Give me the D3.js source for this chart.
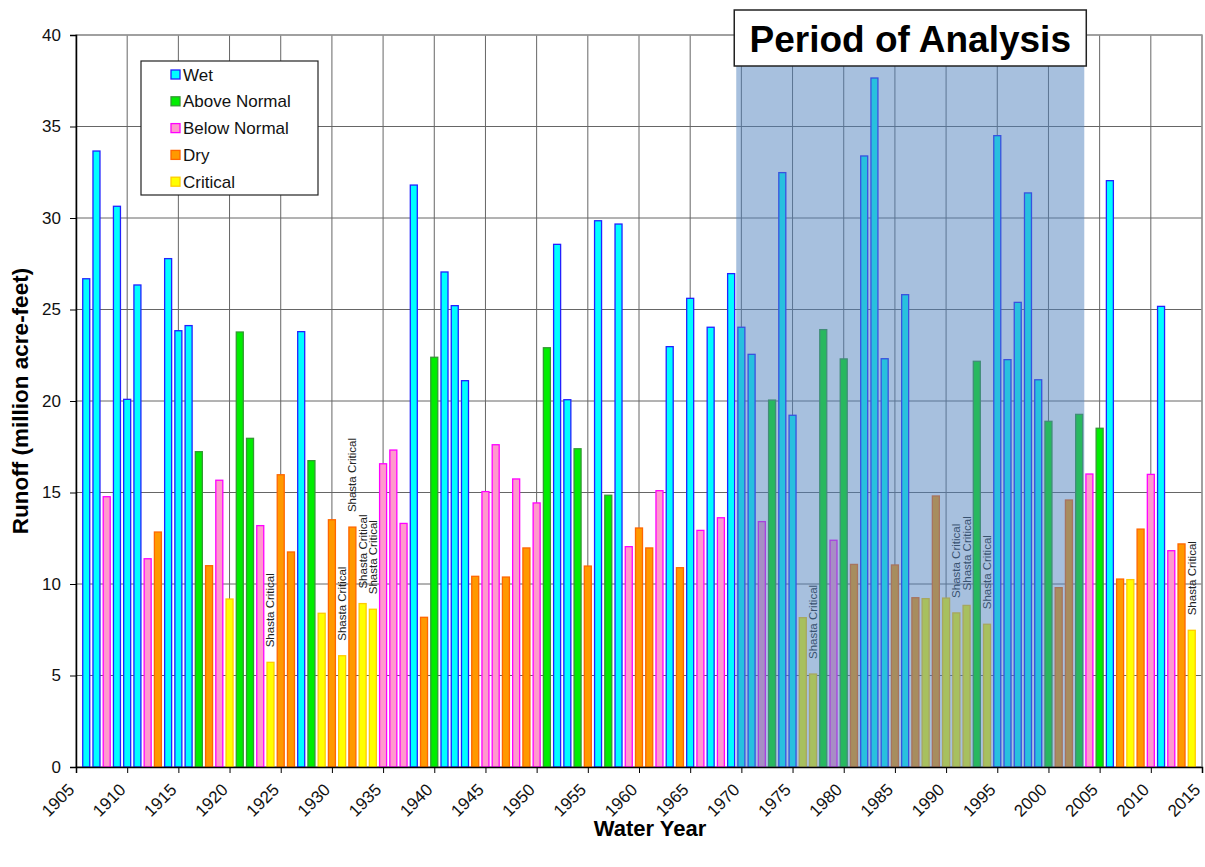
<!DOCTYPE html>
<html>
<head>
<meta charset="utf-8">
<script src="https://cdn.jsdelivr.net/npm/d3@7/dist/d3.min.js"></script>
<style>
  html, body { margin: 0; padding: 0; background: #fff; }
  svg { display: block; font-family: "Liberation Sans", Arial, sans-serif; }
</style>
</head>
<body>
<svg id="chart" width="1205" height="867"></svg>
<script>
// ---------- DATA ----------
const years = d3.range(1906, 2015);
const runoff = [
  26.68, 33.66, 14.77, 30.64, 20.09, 26.34, 11.38, 12.84, 27.78, 23.84, // 1906-1915
  24.12, 17.23, 11.00, 15.67, 9.18, 23.77, 17.96, 13.19, 5.72, 15.97,    // 1916-1925
  11.75, 23.79, 16.74, 8.40, 13.51, 6.08, 13.11, 8.93, 8.62, 16.57,      // 1926-1935
  17.32, 13.31, 31.80, 8.18, 22.39, 27.05, 25.21, 21.11, 10.42, 15.05,   // 1936-1945
  17.61, 10.38, 15.74, 11.97, 14.43, 22.91, 28.56, 20.07, 17.39, 10.98,  // 1946-1955
  29.85, 14.85, 29.67, 12.04, 13.06, 11.97, 15.10, 22.97, 10.89, 25.61,  // 1956-1965
  12.93, 24.03, 13.62, 26.96, 24.03, 22.55, 13.41, 20.05, 32.48, 19.22,  // 1966-1975
  8.16, 5.08, 23.90, 12.39, 22.30, 11.07, 33.39, 37.65, 22.31, 11.04,    // 1976-1985
  25.81, 9.25, 9.20, 14.81, 9.23, 8.42, 8.83, 22.17, 7.80, 34.50,        // 1986-1995
  22.26, 25.39, 31.37, 21.16, 18.89, 9.80, 14.59, 19.27, 16.01, 18.51,   // 1996-2005
  32.04, 10.27, 10.24, 13.00, 15.99, 25.17, 11.82, 12.19, 7.47           // 2006-2014
];
const yearType = [
  "W","W","BN","W","W","W","BN","D","W","W",
  "W","AN","D","BN","C","AN","AN","BN","C","D",
  "D","W","AN","C","D","C","D","C","C","BN",
  "BN","BN","W","D","AN","W","W","W","D","BN",
  "BN","D","BN","D","BN","AN","W","W","AN","D",
  "W","AN","W","BN","D","D","BN","W","D","W",
  "BN","W","BN","W","W","W","BN","AN","W","W",
  "C","C","AN","BN","AN","D","W","W","W","D",
  "W","D","C","D","C","C","C","AN","C","W",
  "W","W","W","W","AN","D","D","AN","BN","AN",
  "W","D","C","D","BN","W","BN","D","C"
];
const typeCodes = ["W", "AN", "BN", "D", "C"];
const typeNames = ["Wet", "Above Normal", "Below Normal", "Dry", "Critical"];
const shastaCriticalYears = [1924, 1931, 1932, 1933, 1934, 1977, 1991, 1992, 1994, 2014];
const periodOfAnalysis = [1969.5, 2003.5];
const yTicks = [0, 5, 10, 15, 20, 25, 30, 35, 40];
const xTicks = d3.range(1905, 2016, 5);

// ---------- STYLES ----------
const fills   = { W: "#00ffff", AN: "#00ee00", BN: "#ff99cc", D: "#ff9900", C: "#ffff00" };
const strokes = { W: "#2222ff", AN: "#339933", BN: "#ff00ff", D: "#ff6600", C: "#ffcc00" };

const data = years.map((y, i) => ({ year: y, value: runoff[i], type: yearType[i] }));

const svg = d3.select("#chart");
const L = 76, R = 1202, T = 35, B = 767;

const x = d3.scaleLinear().domain([1905, 2015]).range([L, R]);
const y = d3.scaleLinear().domain([0, 40]).range([B, T]);

// grid
const grid = svg.append("g");
grid.selectAll("line.h").data(yTicks.filter(d => d > 0)).join("line")
  .attr("x1", L).attr("x2", R).attr("y1", d => y(d)).attr("y2", d => y(d))
  .attr("stroke", "#666").attr("stroke-width", 1);
grid.selectAll("line.v").data(xTicks.filter(d => d > 1905)).join("line")
  .attr("x1", d => x(d)).attr("x2", d => x(d)).attr("y1", T).attr("y2", B)
  .attr("stroke", "#666").attr("stroke-width", 1);
// plot frame top/right
svg.append("rect").attr("x", L).attr("y", T).attr("width", R - L).attr("height", B - T)
  .attr("fill", "none").attr("stroke", "#9a9a9a").attr("stroke-width", 1.5);

// bars
const bw = 7;
svg.append("g").selectAll("rect").data(data).join("rect")
  .attr("x", d => x(d.year) - bw / 2)
  .attr("width", bw)
  .attr("y", d => y(d.value))
  .attr("height", d => y(0) - y(d.value))
  .attr("fill", d => fills[d.type])
  .attr("stroke", d => strokes[d.type])
  .attr("stroke-width", 1.3);

// Shasta critical labels
svg.append("g").selectAll("text").data(data.filter(d => shastaCriticalYears.includes(d.year))).join("text")
  .attr("transform", d => `translate(${x(d.year)},${y(d.value) - 15}) rotate(-90)`)
  .attr("text-anchor", "start")
  .attr("dominant-baseline", "central")
  .attr("font-size", 11.5)
  .attr("fill", "#222")
  .text("Shasta Critical");

// period of analysis overlay
svg.append("rect")
  .attr("x", x(periodOfAnalysis[0])).attr("width", x(periodOfAnalysis[1]) - x(periodOfAnalysis[0]))
  .attr("y", 66).attr("height", B - 66)
  .attr("fill", "#4f81bd").attr("fill-opacity", 0.5);

// period box
const boxX0 = x(periodOfAnalysis[0]) - 2, boxX1 = x(periodOfAnalysis[1]) + 2;
svg.append("rect").attr("x", boxX0).attr("y", 10).attr("width", boxX1 - boxX0).attr("height", 56)
  .attr("fill", "#fff").attr("stroke", "#222").attr("stroke-width", 1.5);
svg.append("text").attr("x", (boxX0 + boxX1) / 2).attr("y", 52)
  .attr("text-anchor", "middle").attr("font-size", 37).attr("font-weight", "bold")
  .attr("fill", "#000").text("Period of Analysis");

// axes
const yAxis = d3.axisLeft(y).tickValues(yTicks).tickSize(6).tickPadding(9);
const ya = svg.append("g").attr("transform", `translate(${L},0)`).call(yAxis);
ya.select(".domain").attr("stroke", "#000").attr("stroke-width", 1.5);
ya.selectAll(".tick line").attr("stroke", "#000");
ya.selectAll(".tick text").attr("font-size", 17).attr("fill", "#111").attr("font-family", "Liberation Sans, Arial, sans-serif");

const xAxis = d3.axisBottom(x).tickValues(xTicks).tickSize(6).tickFormat(d3.format("d"));
const xa = svg.append("g").attr("transform", `translate(0,${B})`).call(xAxis);
xa.select(".domain").attr("stroke", "#000").attr("stroke-width", 1.5);
xa.selectAll(".tick line").attr("stroke", "#000");
xa.selectAll(".tick text")
  .attr("font-size", 17).attr("fill", "#111").attr("font-family", "Liberation Sans, Arial, sans-serif")
  .attr("text-anchor", "end").attr("dy", null).attr("y", null)
  .attr("transform", "translate(-5,20) rotate(-45)")
  .attr("dominant-baseline", "central");

// axis titles
svg.append("text").attr("transform", `translate(28,${(T + B) / 2}) rotate(-90)`)
  .attr("text-anchor", "middle").attr("font-size", 22.5).attr("font-weight", "bold")
  .text("Runoff (million acre-feet)");
svg.append("text").attr("x", 650).attr("y", 836)
  .attr("text-anchor", "middle").attr("font-size", 22).attr("font-weight", "bold")
  .text("Water Year");

// legend
const lg = svg.append("g").attr("transform", "translate(141,61)");
lg.append("rect").attr("width", 177).attr("height", 134).attr("fill", "#fff").attr("stroke", "#222").attr("stroke-width", 1.2);
typeCodes.forEach((c, i) => {
  const row = lg.append("g").attr("transform", `translate(0,${14 + i * 26.8})`);
  row.append("rect").attr("x", 30).attr("y", -5).attr("width", 9).attr("height", 9)
    .attr("fill", fills[c]).attr("stroke", strokes[c]).attr("stroke-width", 1.3);
  row.append("text").attr("x", 42).attr("y", 0).attr("dominant-baseline", "central")
    .attr("font-size", 17).attr("fill", "#111").text(typeNames[i]);
});
</script>
</body>
</html>
